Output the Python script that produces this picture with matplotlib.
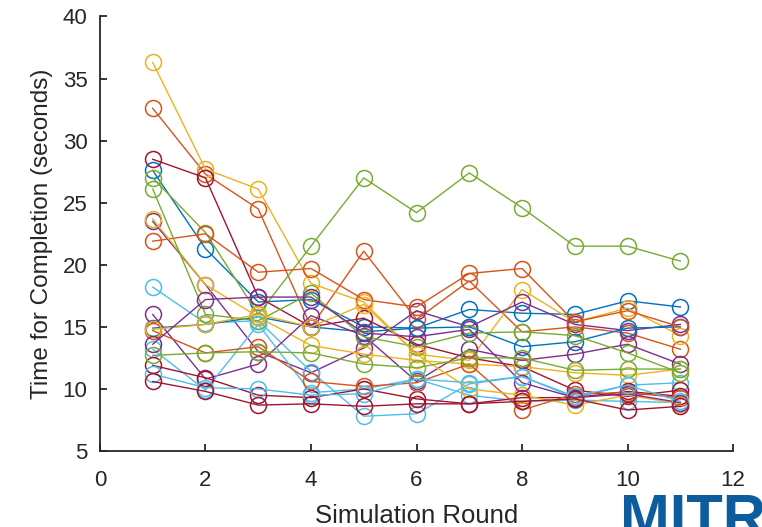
import matplotlib
matplotlib.use("Agg")
from matplotlib import pyplot as plt

rounds = list(range(1, 12))

# MATLAB default line colours
BLUE = '#0072BD'
ORANGE = '#D95319'
YELLOW = '#EDB120'
PURPLE = '#7E2F8E'
GREEN = '#77AC30'
LBLUE = '#4DBEEE'
DRED = '#A2142F'

# one list per participant, seconds per round
b1 = [27.6, 21.3, 17.0, 17.2, 15.0, 14.9, 16.4, 16.1, 16.0, 17.1, 16.6]
o1 = [32.6, 27.3, 24.5, 15.0, 21.1, 15.6, 18.7, 14.6, 15.0, 14.5, 13.2]
y1 = [36.3, 27.7, 26.1, 18.5, 17.0, 12.8, 12.3, 18.0, 15.4, 16.5, 14.3]
p1 = [23.5, 18.4, 13.0, 11.3, 13.3, 16.3, 15.0, 17.0, 15.2, 14.7, 15.2]
g1 = [27.0, 22.6, 16.0, 21.5, 27.0, 24.2, 27.4, 24.6, 21.5, 21.5, 20.3]
lb1 = [18.2, 15.3, 15.5, 11.4, 7.8, 8.0, 10.4, 11.0, 9.3, 10.3, 10.5]
dr1 = [28.5, 27.0, 17.4, 15.0, 15.7, 13.6, 12.5, 11.8, 9.9, 9.4, 9.9]
b2 = [14.9, 15.2, 15.8, 15.0, 14.6, 14.9, 15.0, 13.4, 13.8, 14.9, 15.0]
o2 = [21.9, 22.5, 19.4, 19.7, 17.2, 16.6, 19.3, 19.7, 15.4, 16.3, 15.0]
y2 = [23.7, 18.4, 15.8, 13.5, 12.8, 12.3, 12.0, 11.8, 11.3, 11.1, 11.6]
p2 = [16.0, 10.8, 12.0, 15.9, 14.3, 10.6, 13.2, 12.3, 12.8, 13.6, 12.0]
g2 = [26.1, 16.0, 15.5, 17.7, 14.2, 13.4, 14.5, 14.6, 14.3, 12.9, 11.3]
lb2 = [13.2, 9.9, 15.2, 9.7, 10.0, 10.8, 9.5, 9.0, 9.1, 9.0, 8.9]
dr2 = [11.9, 10.9, 9.5, 9.3, 10.0, 9.2, 8.8, 9.3, 9.3, 9.8, 9.4]
o3 = [14.7, 12.9, 13.4, 10.6, 10.2, 10.5, 12.0, 8.3, 9.6, 9.7, 9.3]
y3 = [14.8, 15.2, 16.0, 15.0, 16.8, 12.8, 10.0, 9.5, 8.7, 9.5, 8.8]
p3 = [13.6, 17.2, 17.4, 17.4, 14.5, 14.2, 14.8, 10.5, 9.3, 9.6, 8.9]
g3 = [12.7, 12.9, 13.0, 12.9, 12.0, 11.7, 12.5, 12.5, 11.5, 11.6, 11.6]
lb3 = [11.2, 10.1, 10.0, 9.5, 9.6, 10.8, 10.5, 11.0, 9.4, 10.3, 9.0]
dr3 = [10.6, 9.8, 8.7, 8.8, 8.6, 8.8, 8.8, 9.0, 9.2, 8.3, 8.6]

series = [b1, o1, y1, p1, g1, lb1, dr1,
          b2, o2, y2, p2, g2, lb2, dr2,
          o3, y3, p3, g3, lb3, dr3]
colors = [BLUE, ORANGE, YELLOW, PURPLE, GREEN, LBLUE, DRED,
          BLUE, ORANGE, YELLOW, PURPLE, GREEN, LBLUE, DRED,
          ORANGE, YELLOW, PURPLE, GREEN, LBLUE, DRED]

plt.rcParams['font.family'] = ['Liberation Sans', 'DejaVu Sans']

fig = plt.figure(figsize=(7.62, 5.27), dpi=100)
ax = fig.add_axes([0.1312, 0.1442, 0.8308, 0.8245])

for vals, c in zip(series, colors):
    ax.plot(rounds, vals, color=c, lw=1.0, marker='o', ms=11.5,
            mfc='none', mec=c, mew=1.1)

ax.set_xlim(0, 12)
ax.set_ylim(5, 40)
ax.set_xticks(range(0, 13, 2))
ax.set_yticks(range(5, 41, 5))
ax.spines['top'].set_visible(False)
ax.spines['right'].set_visible(False)
for s in ['left', 'bottom']:
    ax.spines[s].set_color('#262626')
    ax.spines[s].set_linewidth(1.3)
ax.tick_params(direction='in', length=5, width=1.3, colors='#262626',
               labelsize=16, pad=9)
ax.tick_params(axis='x', pad=14)
ax.set_xlabel('Simulation Round', fontsize=18.5, color='#262626', labelpad=9)
ax.set_ylabel('Time for Completion (seconds)', fontsize=17.5,
              color='#262626', labelpad=7)

# logo cut off at the bottom right corner, as in the source slide
fig.text(620 / 762, -0.017, 'MITR', fontsize=43, fontweight='bold',
         color='#0D5C9E', va='baseline', ha='left')

fig.savefig('out.png', dpi=100)
